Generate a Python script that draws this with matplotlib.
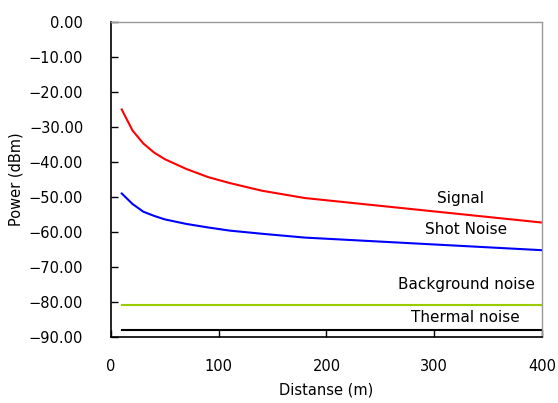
import matplotlib
matplotlib.use("Agg")
import matplotlib.pyplot as plt
from matplotlib.ticker import FuncFormatter

plt.rcParams['font.family'] = ['DejaVu Sans']
plt.rcParams['axes.unicode_minus'] = True

# data
distance = [10, 20, 30, 40, 50, 70, 90, 110, 140, 180, 400]
signal = [-25, -31, -34.7, -37.3, -39.2, -42, -44.3, -46, -48.2, -50.3, -57.3]
shot_noise = [-49, -52, -54.2, -55.4, -56.4, -57.7, -58.7, -59.6, -60.5, -61.6, -65.2]
flat_x = [10, 400]
background = [-81, -81]
thermal = [-88, -88]

labels = ["Signal", "Shot Noise", "Background noise", "Thermal noise"]
label_pos = [(324, -50.4), (330, -59.2), (330, -74.9), (329, -84.5)]

fig = plt.figure(figsize=(5.58, 4.03), dpi=100)
ax = fig.add_axes([0.1989, 0.1638, 0.7724, 0.7816])

ax.plot(distance, signal, color='#ff0000', lw=1.5)
ax.plot(distance, shot_noise, color='#0000ff', lw=1.5)
ax.plot(flat_x, background, color='#99cc00', lw=1.5)
ax.plot(flat_x, thermal, color='black', lw=1.5)

for txt, (x, y) in zip(labels, label_pos):
    ax.text(x, y, txt, ha='center', va='center', fontsize=11)

ax.set_xlim(0, 400)
ax.set_ylim(-90, 0)
ax.set_xticks([0, 100, 200, 300, 400])
ax.set_yticks(range(-90, 1, 10))
ax.yaxis.set_major_formatter(FuncFormatter(lambda v, p: f"{v:.2f}".replace('-', '\u2212')))
ax.tick_params(direction='in', length=5, labelsize=10.5, width=1)
ax.tick_params(axis='x', pad=16)
ax.tick_params(axis='y', pad=20)

for s in ['left', 'bottom']:
    ax.spines[s].set_color('black')
    ax.spines[s].set_linewidth(1.2)
for s in ['top', 'right']:
    ax.spines[s].set_color('#999999')
    ax.spines[s].set_linewidth(1.0)

ax.set_xlabel("Distanse (m)", fontsize=10.5, labelpad=6)
ax.set_ylabel("Power (dBm)", fontsize=10.5, labelpad=4)

fig.savefig("out.png", dpi=100)
